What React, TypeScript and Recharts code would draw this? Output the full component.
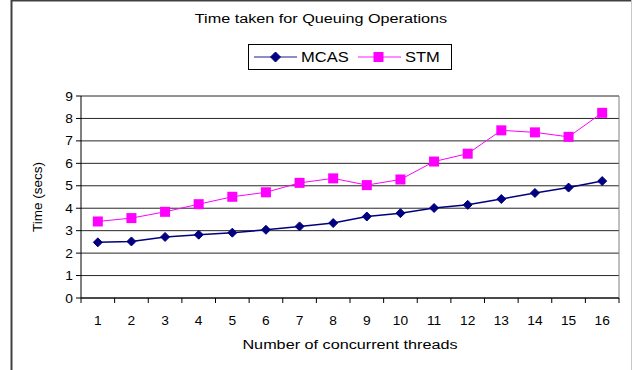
import { CartesianGrid, Line, LineChart, ReferenceLine, XAxis, YAxis } from "recharts";

const threads = [1, 2, 3, 4, 5, 6, 7, 8, 9, 10, 11, 12, 13, 14, 15, 16];
const mcas = [2.48, 2.52, 2.72, 2.82, 2.91, 3.04, 3.19, 3.34, 3.63, 3.78, 4.01, 4.15, 4.41, 4.68, 4.92, 5.21];
const stm = [3.41, 3.56, 3.84, 4.18, 4.51, 4.71, 5.13, 5.33, 5.03, 5.28, 6.08, 6.43, 7.47, 7.38, 7.18, 8.25];
const yTicks = [0, 1, 2, 3, 4, 5, 6, 7, 8, 9];

const data = threads.map((t, i) => ({ thread: t, MCAS: mcas[i], STM: stm[i] }));

const FONT = "'Liberation Sans', Arial, sans-serif";
const W = 632;
const H = 370;
const PLOT_LEFT = 81;
const PLOT_RIGHT = 619;
const STEP = (PLOT_RIGHT - PLOT_LEFT) / threads.length;

const Diamond = (props: any) => {
  const { cx, cy, half = 4.5 } = props;
  if (cx == null || cy == null) return null;
  return (
    <polygon
      points={`${cx},${cy - half} ${cx + half},${cy} ${cx},${cy + half} ${cx - half},${cy}`}
      fill="#000080"
      stroke="#000080"
    />
  );
};

const Square = (props: any) => {
  const { cx, cy, side = 10 } = props;
  if (cx == null || cy == null) return null;
  return <rect x={cx - side / 2} y={cy - side / 2} width={side} height={side} fill="#FF00FF" />;
};

const XTick = (props: any) => {
  const { x, y, payload } = props;
  return (
    <g>
      <line x1={x - STEP / 2} x2={x - STEP / 2} y1={y} y2={y + 5} stroke="#000" />
      {payload.value === threads[threads.length - 1] && (
        <line x1={x + STEP / 2} x2={x + STEP / 2} y1={y} y2={y + 5} stroke="#000" />
      )}
      <text
        transform={`translate(${x},${y + 27}) scale(1.1,1)`}
        textAnchor="middle"
        fontSize={12.5}
        fontFamily={FONT}
        fill="#000"
      >
        {payload.value}
      </text>
    </g>
  );
};

const YTick = (props: any) => {
  const { x, y, payload } = props;
  return (
    <text
      transform={`translate(${x},${y + 4.5}) scale(1.1,1)`}
      textAnchor="end"
      fontSize={12.5}
      fontFamily={FONT}
      fill="#000"
    >
      {payload.value}
    </text>
  );
};

export default function App() {
  return (
    <div style={{ position: "absolute", left: 0, top: 0, width: W, height: H, background: "#fff" }}>
      <LineChart width={W} height={H} data={data} margin={{ top: 96, right: W - PLOT_RIGHT, bottom: 0, left: 0 }}>
        <CartesianGrid vertical={false} stroke="#000" strokeOpacity={0.85} />
        <ReferenceLine x={16.5} stroke="#808080" />
        <XAxis
          dataKey="thread"
          type="number"
          domain={[0.5, 16.5]}
          ticks={threads}
          height={72}
          tickLine={false}
          tickSize={0}
          tickMargin={0}
          axisLine={{ stroke: "#000" }}
          tick={<XTick />}
          interval={0}
        />
        <YAxis
          domain={[0, 9]}
          ticks={yTicks}
          width={PLOT_LEFT}
          tickSize={5}
          tickMargin={3}
          tickLine={{ stroke: "#000" }}
          axisLine={{ stroke: "#000" }}
          tick={<YTick />}
          interval={0}
        />
        <Line
          dataKey="MCAS"
          stroke="#000080"
          strokeWidth={1.5}
          dot={<Diamond />}
          isAnimationActive={false}
        />
        <Line
          dataKey="STM"
          stroke="#FF00FF"
          strokeWidth={1}
          dot={<Square />}
          isAnimationActive={false}
        />
      </LineChart>
      <svg
        width={W}
        height={H}
        style={{ position: "absolute", left: 0, top: 0, pointerEvents: "none" }}
        fontFamily={FONT}
      >
        <line x1={11} x2={631} y1={0.5} y2={0.5} stroke="#404040" strokeWidth={2} />
        <line x1={11.5} x2={11.5} y1={0} y2={H} stroke="#404040" strokeWidth={2} />
        <line x1={631.5} x2={631.5} y1={0} y2={H} stroke="#c8c8c8" />
        <text transform="translate(321,23) scale(1.2,1)" textAnchor="middle" fontSize={13.5} fill="#000">
          Time taken for Queuing Operations
        </text>
        <rect x={248.5} y={44.5} width={203} height={25} fill="#fff" stroke="#000" />
        <line x1={254} x2={297} y1={57} y2={57} stroke="#000080" strokeOpacity={0.6} strokeWidth={1.5} />
        <Diamond cx={275.5} cy={57} half={5} />
        <text transform="translate(301,62) scale(1.18,1)" fontSize={14} fill="#000">
          MCAS
        </text>
        <line x1={358} x2={401} y1={57} y2={57} stroke="#FF00FF" strokeOpacity={0.6} strokeWidth={1.5} />
        <Square cx={378.5} cy={57} side={10} />
        <text transform="translate(405,62) scale(1.18,1)" fontSize={14} fill="#000">
          STM
        </text>
        <text transform="translate(350,349) scale(1.2,1)" textAnchor="middle" fontSize={13.5} fill="#000">
          Number of concurrent threads
        </text>
        <text transform="translate(42,197) rotate(-90)" textAnchor="middle" fontSize={13.5} fill="#000">
          Time (secs)
        </text>
      </svg>
    </div>
  );
}
